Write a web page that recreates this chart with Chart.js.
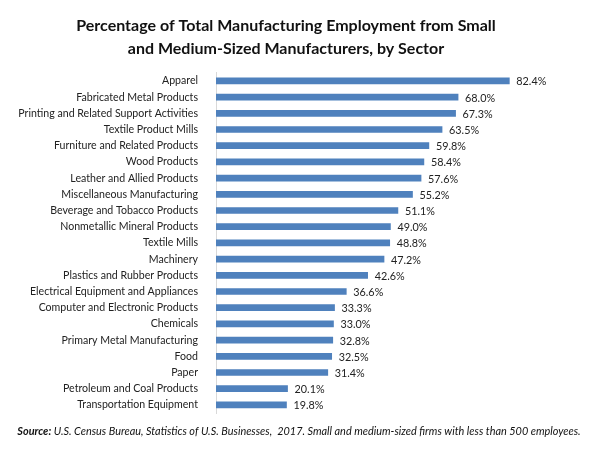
<!DOCTYPE html>
<html>
<head>
<meta charset="utf-8">
<script src="https://cdn.jsdelivr.net/npm/chart.js@4"></script>
<style>
  html, body { margin: 0; padding: 0; background: #fff; }
  #wrap { width: 600px; height: 450px; }
</style>
</head>
<body>
<div id="wrap"><canvas id="chart" width="600" height="450"></canvas></div>
<script>
const sectors = [
    "Apparel", "Fabricated Metal Products", "Printing and Related Support Activities",
    "Textile Product Mills", "Furniture and Related Products", "Wood Products",
    "Leather and Allied Products", "Miscellaneous Manufacturing", "Beverage and Tobacco Products",
    "Nonmetallic Mineral Products", "Textile Mills", "Machinery", "Plastics and Rubber Products",
    "Electrical Equipment and Appliances", "Computer and Electronic Products", "Chemicals",
    "Primary Metal Manufacturing", "Food", "Paper", "Petroleum and Coal Products",
    "Transportation Equipment"
];
const shares = [82.4, 68.0, 67.3, 63.5, 59.8, 58.4, 57.6, 55.2, 51.1, 49.0, 48.8, 47.2,
    42.6, 36.6, 33.3, 33.0, 32.8, 32.5, 31.4, 20.1, 19.8];
const titleLines = [
    "Percentage of Total Manufacturing Employment from Small",
    "and Medium-Sized Manufacturers, by Sector"
];
const sourceLabel = "Source:";
const sourceText = " U.S. Census Bureau, Statistics of U.S. Businesses,  2017. Small and medium-sized firms with less than 500 employees.";

const FONT = "Lato, 'Open Sans', sans-serif";

// value labels at the end of each bar
const barLabels = {
    id: 'barLabels',
    afterDatasetsDraw(chart) {
        const ctx = chart.ctx;
        const meta = chart.getDatasetMeta(0);
        ctx.save();
        ctx.font = "10.8px " + FONT;
        ctx.fillStyle = "#222";
        ctx.textAlign = "left";
        ctx.textBaseline = "middle";
        meta.data.forEach((bar, i) => {
            ctx.fillText(shares[i].toFixed(1) + "%", bar.x + 7, bar.y + 1);
        });
        ctx.restore();
    }
};

// source note under the chart
const sourceNote = {
    id: 'sourceNote',
    afterDraw(chart) {
        const ctx = chart.ctx;
        const size = 10.9;
        ctx.save();
        ctx.fillStyle = "#111";
        ctx.textBaseline = "middle";
        ctx.font = "italic bold " + size + "px " + FONT;
        const w1 = ctx.measureText(sourceLabel).width;
        ctx.font = "italic " + size + "px " + FONT;
        const w2 = ctx.measureText(sourceText).width;
        let x = 299 - (w1 + w2) / 2;
        const y = 431;
        ctx.font = "italic bold " + size + "px " + FONT;
        ctx.fillText(sourceLabel, x, y);
        ctx.font = "italic " + size + "px " + FONT;
        ctx.fillText(sourceText, x + w1, y);
        ctx.restore();
    }
};

new Chart(document.getElementById('chart'), {
    type: 'bar',
    data: {
        labels: sectors,
        datasets: [{
            data: shares,
            backgroundColor: "#4f81bd",
            barThickness: 6
        }]
    },
    options: {
        indexAxis: 'y',
        responsive: false,
        animation: false,
        layout: { padding: { left: 0, right: 28, top: 0, bottom: 37 } },
        plugins: {
            legend: { display: false },
            tooltip: { enabled: false },
            title: {
                display: true,
                text: titleLines,
                color: "#111",
                font: { family: FONT, size: 16, weight: 'bold', lineHeight: 1.4 },
                padding: { top: 15, bottom: 13 }
            }
        },
        scales: {
            x: { display: false, min: 0, max: 100 },
            y: {
                grid: { display: false },
                border: { display: true, color: "#d9d9d9" },
                ticks: {
                    color: "#222",
                    font: { family: FONT, size: 10.6 },
                    padding: 10,
                    autoSkip: false
                },
                afterFit(scale) { scale.width = 216; }
            }
        }
    },
    plugins: [barLabels, sourceNote]
});
</script>
</body>
</html>
